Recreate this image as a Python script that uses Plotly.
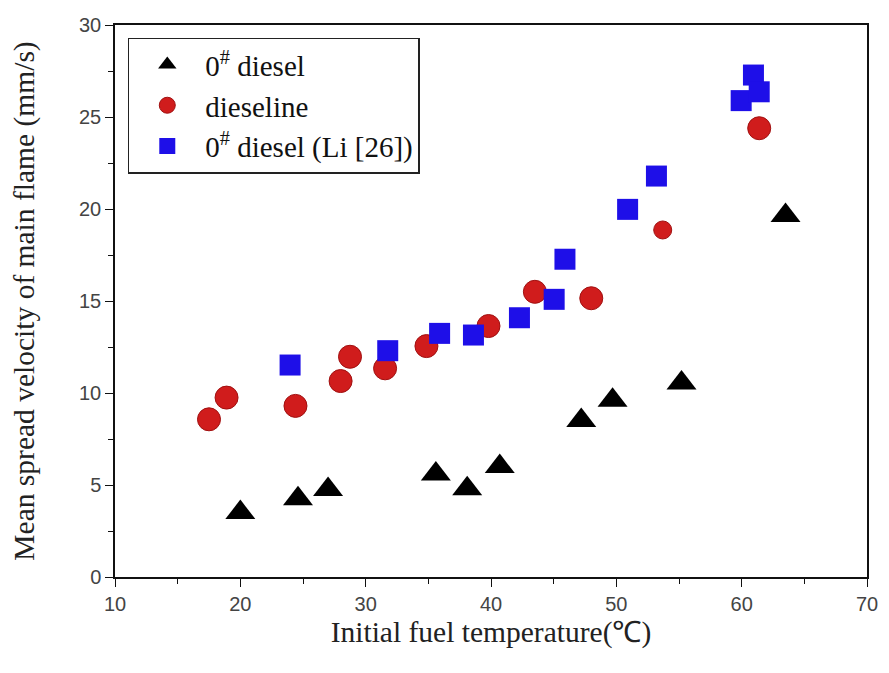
import plotly.graph_objects as go

# 0# diesel (triangles)
diesel_x = [20.0, 24.6, 27.0, 35.6, 38.1, 40.7, 47.2, 49.7, 55.2, 63.5]
diesel_y = [3.5, 4.25, 4.75, 5.6, 4.8, 6.0, 8.5, 9.6, 10.55, 19.65]

# dieseline (circles)
dieseline_x = [17.5, 18.9, 24.4, 28.0, 28.75, 31.55, 34.85, 39.8, 43.5, 48.0, 53.7, 61.4]
dieseline_y = [8.57, 9.75, 9.3, 10.65, 11.97, 11.34, 12.55, 13.64, 15.5, 15.15, 18.86, 24.39]

# 0# diesel (Li [26]) (squares)
li_x = [23.97, 31.76, 35.9, 38.6, 42.27, 45.04, 45.9, 50.9, 53.2, 59.96, 60.94, 61.4]
li_y = [11.52, 12.3, 13.24, 13.15, 14.09, 15.09, 17.27, 19.98, 21.79, 25.89, 27.28, 26.37]

x_ticks = [10, 20, 30, 40, 50, 60, 70]
y_ticks = [0, 5, 10, 15, 20, 25, 30]

dieseline_sizes = [23] * len(dieseline_x)
dieseline_sizes[10] = 18

serif = "Liberation Serif, Times New Roman, serif"

fig = go.Figure()
fig.add_trace(go.Scatter(
    x=diesel_x, y=diesel_y, mode="markers", name="0<sup>#</sup> diesel",
    legendgroup="a",
    marker=dict(symbol="triangle-up", size=26, color="#000000", opacity=1, line=dict(width=0)),
))
fig.add_trace(go.Scatter(
    x=dieseline_x, y=dieseline_y, mode="markers", name="dieseline",
    legendgroup="b",
    marker=dict(symbol="circle", size=dieseline_sizes, color="#d01c1c", opacity=1,
                line=dict(width=1, color="#a01010")),
))
fig.add_trace(go.Scatter(
    x=li_x, y=li_y, mode="markers", name="0<sup>#</sup> diesel (Li [26])",
    legendgroup="c",
    marker=dict(symbol="square", size=21, color="#1e0fe8", opacity=1, line=dict(width=0)),
))

axis_common = dict(
    showline=True, linecolor="#111111", linewidth=1.5, mirror=True,
    ticks="outside", ticklen=8, tickwidth=1.2, tickcolor="#111111",
    showgrid=False, zeroline=False, automargin=False,
    tickfont=dict(family="Liberation Sans, Arial, sans-serif", size=20, color="#444444"),
    minor=dict(ticks="outside", ticklen=5, tickwidth=1, tickcolor="#111111"),
)

fig.update_xaxes(
    range=[10, 70], tickvals=x_ticks, ticktext=[str(v) for v in x_ticks],
    minor_dtick=5,
    title=dict(text="Initial fuel temperature(℃)", standoff=8,
               font=dict(family=serif, size=29.5, color="#222222")),
    **axis_common,
)
fig.update_yaxes(
    range=[0, 30], tickvals=y_ticks, ticktext=[str(v) for v in y_ticks],
    minor_dtick=2.5,
    title=dict(text="Mean spread velocity of main flame (mm/s)", standoff=36,
               font=dict(family=serif, size=29.5, color="#222222")),
    **axis_common,
)

fig.update_layout(
    width=889, height=673,
    margin=dict(l=115, r=22, t=25, b=96),
    paper_bgcolor="white", plot_bgcolor="white",
    showlegend=True,
    legend=dict(
        x=0.017, y=0.977, xanchor="left", yanchor="top",
        bordercolor="#222222", borderwidth=1.5, bgcolor="white",
        font=dict(family=serif, size=29, color="#111111"),
        tracegroupgap=0, traceorder="grouped",
        itemwidth=66,
    ),
)

fig.write_html("out.html")
